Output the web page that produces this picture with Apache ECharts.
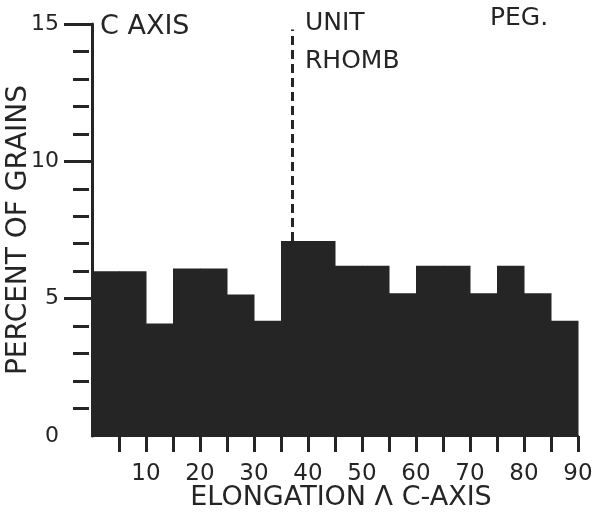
<!DOCTYPE html>
<html>
<head>
<meta charset="utf-8">
<script src="https://cdn.jsdelivr.net/npm/echarts@6/dist/echarts.min.js"></script>
<style>
html,body{margin:0;padding:0;background:#fff;}
#chart{width:596px;height:515px;}
</style>
</head>
<body>
<div id="chart"></div>
<script>
// Bin edges (degrees) and percent of grains per 5-degree bin
var binEdges = [0,5,10,15,20,25,30,35,40,45,50,55,60,65,70,75,80,85,90];
var percentGrains = [6.0,6.0,4.1,6.1,6.1,5.15,4.2,7.1,7.1,6.2,6.2,5.2,6.2,6.2,5.2,6.2,5.2,4.2];
var xTickValues = [5,10,15,20,25,30,35,40,45,50,55,60,65,70,75,80,85,90];
var xLabelValues = [10,20,30,40,50,60,70,80,90];
var yLabelValues = [0,5,10,15];
var yMajorTicks = [5,10,15];
var yMinorTicks = [1,2,3,4,6,7,8,9,11,12,13,14];
var unitRhombAngle = 37;
var annotationTexts = ['C AXIS', 'UNIT', 'RHOMB', 'PEG.'];

var ink = '#252525';
var font = 'DejaVu Sans';

var data = percentGrains.map(function(v,i){ return [binEdges[i], binEdges[i+1], v]; });

var chart = echarts.init(document.getElementById('chart'));
chart.setOption({
  backgroundColor:'#ffffff',
  animation:false,
  grid:{left:92, right:18, top:24, bottom:79, containLabel:false, outerBoundsMode:'none'},
  xAxis:{
    type:'value', min:0, max:90, interval:5,
    name:'ELONGATION \u039B C-AXIS', nameLocation:'middle', nameGap:48, nameMoveOverlap:false,
    nameTextStyle:{fontFamily:font, fontSize:27, color:ink, padding:[0,0,0,12]},
    axisLine:{show:true, lineStyle:{color:ink, width:2}},
    axisTick:{show:true, customValues:xTickValues, length:16, lineStyle:{color:ink, width:3}},
    axisLabel:{show:true, customValues:xLabelValues, margin:27, fontFamily:font, fontSize:23, color:ink, hideOverlap:false},
    splitLine:{show:false}
  },
  yAxis:[{
    type:'value', min:0, max:15, interval:5, position:'left', offset:3,
    name:'PERCENT OF GRAINS', nameLocation:'middle', nameGap:56, nameMoveOverlap:false,
    nameTextStyle:{fontFamily:font, fontSize:28, color:ink},
    axisLine:{show:true, lineStyle:{color:ink, width:3}},
    axisTick:{show:true, customValues:yMajorTicks, length:28, lineStyle:{color:ink, width:3}},
    axisLabel:{show:true, customValues:yLabelValues, margin:30, fontFamily:font, fontSize:22, color:ink, hideOverlap:false},
    splitLine:{show:false}
  },{
    type:'value', min:0, max:15, interval:1, position:'left', offset:3,
    axisLine:{show:false},
    axisTick:{show:true, customValues:yMinorTicks, length:16, lineStyle:{color:ink, width:3}},
    axisLabel:{show:false},
    splitLine:{show:false}
  }],
  series:[{
    type:'custom',
    xAxisIndex:0, yAxisIndex:0,
    encode:{x:[0,1], y:2},
    data:data,
    renderItem:function(params, api){
      var p0 = api.coord([api.value(0), api.value(2)]);
      var p1 = api.coord([api.value(1), 0]);
      return {
        type:'rect',
        shape:{x:p0[0], y:p0[1], width:p1[0]-p0[0]+0.5, height:p1[1]-p0[1]},
        style:{fill:ink}
      };
    },
    markLine:{
      silent:true, symbol:['none','none'], label:{show:false},
      lineStyle:{color:ink, width:3, type:[9,5]},
      data:[[{coord:[unitRhombAngle, percentGrains[7]]},{coord:[unitRhombAngle, 14.8]}]]
    }
  }],
  graphic:[
    {type:'text', left:100, top:13, style:{text:annotationTexts[0], fontFamily:font, fontSize:27, fill:ink}},
    {type:'text', left:305, top:11, style:{text:annotationTexts[1], fontFamily:font, fontSize:25, fill:ink}},
    {type:'text', left:305, top:49, style:{text:annotationTexts[2], fontFamily:font, fontSize:25, fill:ink}},
    {type:'text', left:490, top:6, style:{text:annotationTexts[3], fontFamily:font, fontSize:25, fill:ink}}
  ]
});
</script>
</body>
</html>
